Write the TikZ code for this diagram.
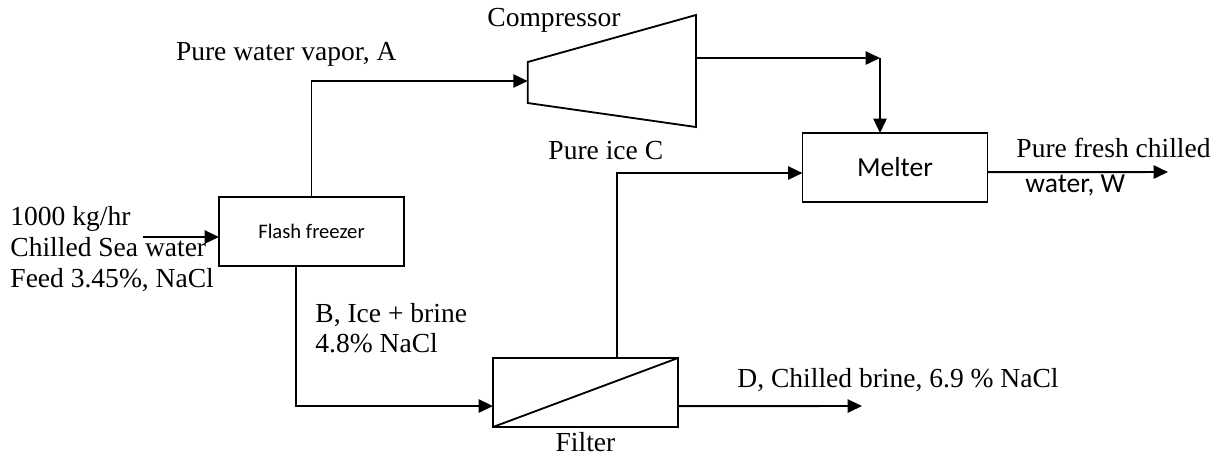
\documentclass[tikz,border=0pt]{standalone}
\usepackage{fontspec}
\setmainfont{Liberation Serif}
\newfontfamily\calibfont{Carlito}
\usetikzlibrary{arrows.meta,positioning,calc}
\tikzset{
  UB/.style={rectangle,draw,line width=0.8pt,inner sep=0pt,outer sep=0pt,
             minimum width=80.7pt,minimum height=30.1pt},
  arr/.style={-{Triangle[length=6.3pt,width=5.8pt]},line width=0.85pt},
  TX/.style={inner sep=0pt,font=\fontsize{12}{13.7}\selectfont,align=left},
  SX/.style={inner sep=0pt,font=\calibfont\fontsize{12}{14}\selectfont}
}

\begin{document}
\begin{tikzpicture}[x=0.436pt,y=-0.436pt]
  \useasboundingbox (0,0) rectangle (1223,456);
  \node[UB,font=\calibfont\fontsize{9}{11}\selectfont] (freezer) at (311.5,231.5) {Flash freezer};
  \node[UB,font=\calibfont\fontsize{12}{14}\selectfont] (melter) at (895,167.5) {Melter};
  \node[UB] (filter) at (585.5,392.5) {};
  \draw[line width=0.8pt] (filter.south west) -- (filter.north east);
  % compressor
  \draw[line width=0.8pt] (527.7,62) -- (696,15) -- (696,127) -- (527.7,103) -- cycle;
  \coordinate (compin) at (527.7,81);
  \coordinate (compout) at (696,58);
  \coordinate (bend) at (880,58);
  \coordinate (feed) at (143,237);
  \coordinate (brine) at (862,406);
  \coordinate (water) at (1168,172);

  \node[TX,anchor=west] (lfeed) at (10,249) {1000 kg/hr\\Chilled Sea water\\Feed 3.45\%, NaCl};
  \node[TX,anchor=base east] (lvapor) at (397,60) {Pure water vapor, A};
  \node[TX,anchor=base west] (lcomp) at (487,26) {Compressor};
  \node[TX,anchor=base west] (lice) at (548,159) {Pure ice C};
  \node[TX,anchor=base west] (lfresh) at (1016,157) {Pure fresh chilled};
  \node[SX,anchor=base west] (lwater) at (1025,192) {water, W};
  \node[TX,font=\fontsize{12}{13.1}\selectfont,anchor=west] (lbrine) at (315,328) {B, Ice + brine\\4.8\% NaCl};
  \node[TX,anchor=base west] (ldbrine) at (737,387) {D, Chilled brine, 6.9 \% NaCl};
  \node[TX,below=2pt of filter] (lfilter) {Filter};

  \draw[arr] (feed) -- (feed -| freezer.west);
  \draw[arr] (freezer.north) |- (compin);
  \draw[arr] (compout) -- (bend);
  \draw[arr] (bend) -- (bend |- melter.north);
  \draw[arr] ([xshift=-6.8pt]freezer.south) |- ([yshift=-5.9pt]filter.west);
  \draw[arr] ([xshift=13.7pt]filter.north) |- ([yshift=-2.4pt]melter.west);
  \draw[arr] ([yshift=-5.9pt]filter.east) -- (brine);
  \draw[arr] ([yshift=-2pt]melter.east) -- (water);
\end{tikzpicture}
\end{document}
